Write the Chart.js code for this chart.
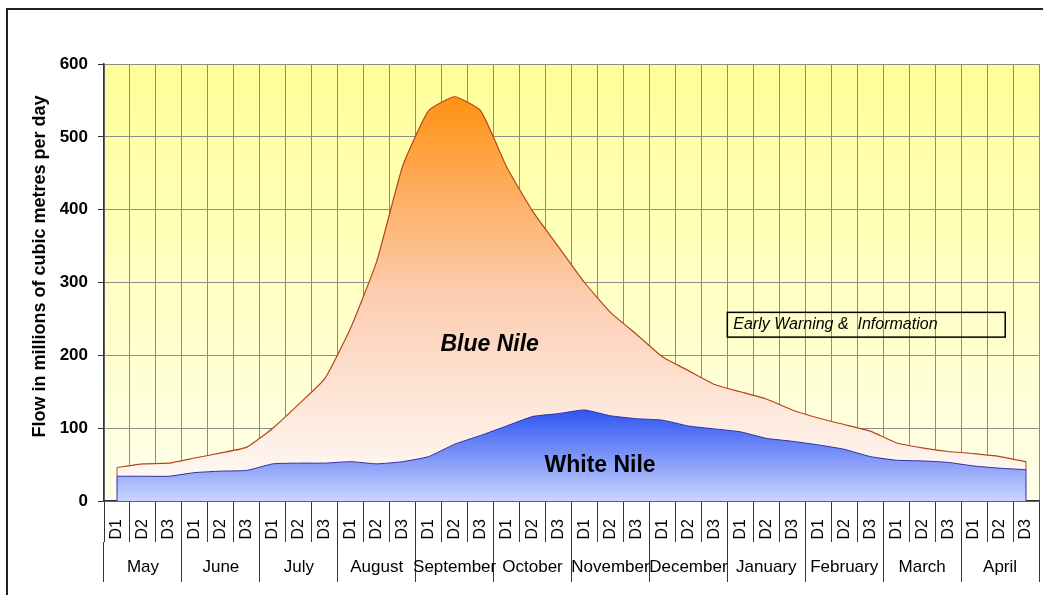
<!DOCTYPE html>
<html>
<head>
<meta charset="utf-8">
<script src="https://cdn.jsdelivr.net/npm/chart.js@4.4.0/dist/chart.umd.min.js"></script>
<style>
html, body { margin: 0; padding: 0; background: #fff; overflow: hidden; }
#frame { position: absolute; left: 6px; top: 8px; width: 1100px; height: 700px; border-left: 2px solid #222; border-top: 2px solid #222; }
#wrap { position: absolute; left: 0; top: 0; width: 1043px; height: 595px; }
</style>
</head>
<body>
<div id="frame"></div>
<div id="wrap"><canvas id="chart" width="1043" height="595"></canvas></div>
<script>
// ten-day periods (dekads) of each month, May -> April
const months = ['May', 'June', 'July', 'August', 'September', 'October', 'November', 'December', 'January', 'February', 'March', 'April'];
const dekads = [];
months.forEach(m => { dekads.push('D1', 'D2', 'D3'); });

// flow in millions of m3 per day
const whiteNile = [34, 34, 34, 39, 41, 42, 51, 52, 52, 54, 51, 54, 61, 78, 90, 103, 116, 120,
                   125, 117, 113, 111, 103, 99, 95, 86, 82, 77, 71, 61, 56, 55, 53, 48, 45, 43];
const blueNile  = [12, 17, 18, 20, 25, 32, 49, 81, 116, 184, 278, 406, 475, 477, 446, 356, 282, 229,
                   175, 142, 116, 87, 76, 61, 55, 54, 43, 37, 34, 35, 24, 18, 15, 17, 16, 11];
const yTicks = [0, 100, 200, 300, 400, 500, 600];

Chart.defaults.font.family = '"Liberation Sans", Arial, sans-serif';
Chart.defaults.color = '#000';

function blueFill(context) {
  const chart = context.chart;
  if (!chart.chartArea) return '#FCCBAE';
  const y = chart.scales.y;
  const g = chart.ctx.createLinearGradient(0, y.getPixelForValue(560), 0, y.getPixelForValue(0));
  g.addColorStop(0, '#FF9010');
  g.addColorStop(0.5, '#FCCDB2');
  g.addColorStop(1, '#FFFDFC');
  return g;
}
function whiteFill(context) {
  const chart = context.chart;
  if (!chart.chartArea) return '#7F95F8';
  const y = chart.scales.y;
  const g = chart.ctx.createLinearGradient(0, y.getPixelForValue(125), 0, y.getPixelForValue(0));
  g.addColorStop(0, '#2E55F2');
  g.addColorStop(1, '#CAD4FF');
  return g;
}

const plotBg = {
  id: 'plotBg',
  beforeDraw(chart) {
    const ctx = chart.ctx, a = chart.chartArea;
    const g = ctx.createLinearGradient(0, a.top, 0, a.bottom);
    g.addColorStop(0, '#FFFF99');
    g.addColorStop(1, '#FFFFEC');
    ctx.save();
    ctx.fillStyle = g;
    ctx.fillRect(a.left, a.top, a.right - a.left, a.bottom - a.top);
    ctx.restore();
  },
  afterDatasetsDraw(chart) {
    // closing edges of both areas at the first and last dekad
    const ctx = chart.ctx, x = chart.scales.x, y = chart.scales.y;
    ctx.save();
    [0, dekads.length - 1].forEach(i => {
      const px = x.getPixelForValue(i);
      ctx.lineWidth = 1;
      ctx.strokeStyle = '#B5461A';
      ctx.beginPath();
      ctx.moveTo(px, y.getPixelForValue(whiteNile[i] + blueNile[i]));
      ctx.lineTo(px, y.getPixelForValue(whiteNile[i]));
      ctx.stroke();
      ctx.strokeStyle = '#3030A0';
      ctx.beginPath();
      ctx.moveTo(px, y.getPixelForValue(whiteNile[i]));
      ctx.lineTo(px, y.getPixelForValue(0));
      ctx.stroke();
    });
    ctx.restore();
  },
  afterDraw(chart) {
    const ctx = chart.ctx, x = chart.scales.x, y = chart.scales.y;
    ctx.save();
    ctx.fillStyle = '#000';
    ctx.textBaseline = 'middle';
    ctx.textAlign = 'center';
    // axis title
    ctx.save();
    ctx.translate(40, y.getPixelForValue(322));
    ctx.rotate(-Math.PI / 2);
    ctx.font = 'bold 18px "Liberation Sans", Arial, sans-serif';
    ctx.fillText('Flow in millions of cubic metres per day', 0, 0);
    ctx.restore();
    // series labels
    ctx.font = 'italic bold 23px "Liberation Sans", Arial, sans-serif';
    ctx.fillText('Blue Nile', x.getPixelForValue(14.35), y.getPixelForValue(215));
    ctx.font = 'bold 23px "Liberation Sans", Arial, sans-serif';
    ctx.fillText('White Nile', x.getPixelForValue(18.6), y.getPixelForValue(49));
    // note box
    const bx0 = x.getPixelForValue(23.5), bx1 = x.getPixelForValue(34.2);
    const by0 = y.getPixelForValue(259), by1 = y.getPixelForValue(225);
    ctx.strokeStyle = '#000';
    ctx.lineWidth = 1.5;
    ctx.strokeRect(bx0, by0, bx1 - bx0, by1 - by0);
    ctx.textAlign = 'left';
    ctx.font = 'italic 16px "Liberation Sans", Arial, sans-serif';
    ctx.fillText('Early Warning &  Information', bx0 + 6, (by0 + by1) / 2);
    ctx.restore();
  }
};

new Chart(document.getElementById('chart'), {
  type: 'line',
  data: {
    labels: dekads,
    datasets: [{
      label: 'White Nile',
      data: whiteNile,
      borderColor: '#3030A0',
      borderWidth: 1,
      backgroundColor: whiteFill,
      fill: 'origin',
      pointRadius: 0,
      tension: 0.15
    }, {
      label: 'Blue Nile',
      data: blueNile,
      borderColor: '#B5461A',
      borderWidth: 1.2,
      backgroundColor: blueFill,
      fill: '-1',
      pointRadius: 0,
      tension: 0.15
    }]
  },
  options: {
    responsive: false,
    animation: false,
    layout: { padding: { top: 64, right: 4, bottom: 13, left: 0 } },
    plugins: { legend: { display: false }, tooltip: { enabled: false } },
    scales: {
      x: {
        type: 'category',
        position: 'bottom',
        offset: true,
        weight: 0,
        grid: { offset: true, color: '#8C8C8C', tickColor: '#333', tickLength: 41, lineWidth: 1 },
        border: { color: '#333', width: 1.5 },
        ticks: { autoSkip: false, minRotation: 90, maxRotation: 90, padding: -23, font: { size: 16 } },
        afterFit: s => { s.height = 41; }
      },
      xm: {
        type: 'category',
        position: 'bottom',
        labels: months,
        offset: true,
        weight: 1,
        grid: { offset: true, drawOnChartArea: false, tickColor: '#333', tickLength: 40 },
        border: { display: false },
        ticks: { autoSkip: false, maxRotation: 0, padding: -25, font: { size: 17 } },
        afterFit: s => { s.height = 40; }
      },
      y: {
        stacked: true,
        min: 0,
        max: 600,
        afterBuildTicks: s => { s.ticks = yTicks.map(v => ({ value: v })); },
        grid: { color: '#8C8C8C', tickColor: '#333', tickLength: 6 },
        border: { color: '#333', width: 1.5 },
        ticks: { padding: 10, font: { size: 17, weight: 'bold' } },
        afterFit: s => { s.width = 104; }
      }
    }
  },
  plugins: [plotBg]
});
</script>
</body>
</html>
